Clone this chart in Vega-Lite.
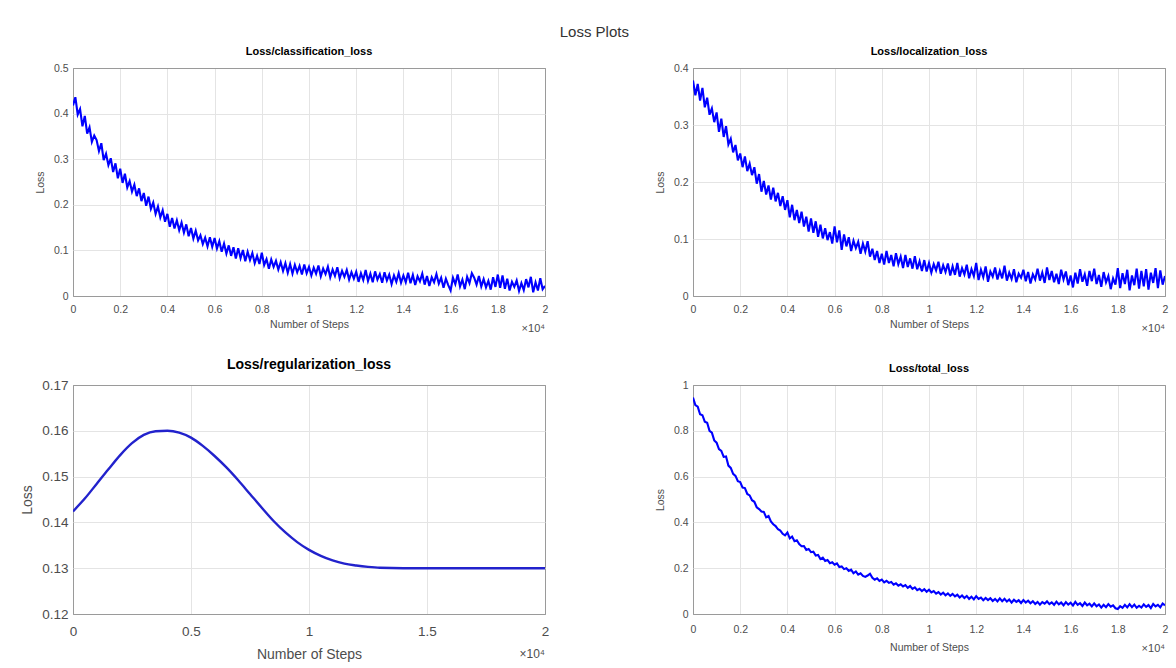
{
"$schema": "https://vega.github.io/schema/vega-lite/v6.json",
"background": "white",
"padding": {"left": 20, "top": 24, "right": 4, "bottom": 4},
"title": {"text": "Loss Plots", "fontSize": 15, "font": "Liberation Sans", "fontWeight": "normal", "color": "#333333", "anchor": "middle", "offset": 6},
"config": {
  "font": "Liberation Sans",
  "view": {"stroke": "#9a9a9a", "strokeWidth": 1},
  "axis": {"grid": true, "gridColor": "#e4e4e4", "domain": false, "ticks": false, "labelColor": "#4d4d4d", "titleColor": "#4d4d4d", "titleFontWeight": "normal", "labelFlush": false, "labelOverlap": false, "labelFont": "Liberation Sans", "titleFont": "Liberation Sans"}
},
"columns": 2,
"bounds": "flush",
"spacing": {"column": 148, "row": 89},
"datasets": {
"cls": [
{"step":0,"loss":0.418},{"step":100,"loss":0.436},{"step":200,"loss":0.398},{"step":300,"loss":0.41},{"step":400,"loss":0.372},{"step":500,"loss":0.395},{"step":600,"loss":0.356},{"step":700,"loss":0.37},{"step":800,"loss":0.338},{"step":900,"loss":0.352},
{"step":1000,"loss":0.342},{"step":1100,"loss":0.318},{"step":1200,"loss":0.335},{"step":1300,"loss":0.298},{"step":1400,"loss":0.312},{"step":1500,"loss":0.287},{"step":1600,"loss":0.302},{"step":1700,"loss":0.272},{"step":1800,"loss":0.291},{"step":1900,"loss":0.258},
{"step":2000,"loss":0.279},{"step":2100,"loss":0.248},{"step":2200,"loss":0.268},{"step":2300,"loss":0.238},{"step":2400,"loss":0.252},{"step":2500,"loss":0.229},{"step":2600,"loss":0.244},{"step":2700,"loss":0.219},{"step":2800,"loss":0.236},{"step":2900,"loss":0.208},
{"step":3000,"loss":0.226},{"step":3100,"loss":0.198},{"step":3200,"loss":0.218},{"step":3300,"loss":0.191},{"step":3400,"loss":0.205},{"step":3500,"loss":0.18},{"step":3600,"loss":0.196},{"step":3700,"loss":0.172},{"step":3800,"loss":0.188},{"step":3900,"loss":0.163},
{"step":4000,"loss":0.18},{"step":4100,"loss":0.152},{"step":4200,"loss":0.171},{"step":4300,"loss":0.148},{"step":4400,"loss":0.166},{"step":4500,"loss":0.144},{"step":4600,"loss":0.161},{"step":4700,"loss":0.139},{"step":4800,"loss":0.157},{"step":4900,"loss":0.131},
{"step":5000,"loss":0.149},{"step":5100,"loss":0.126},{"step":5200,"loss":0.143},{"step":5300,"loss":0.122},{"step":5400,"loss":0.133},{"step":5500,"loss":0.114},{"step":5600,"loss":0.128},{"step":5700,"loss":0.109},{"step":5800,"loss":0.129},{"step":5900,"loss":0.108},
{"step":6000,"loss":0.127},{"step":6100,"loss":0.104},{"step":6200,"loss":0.12},{"step":6300,"loss":0.097},{"step":6400,"loss":0.115},{"step":6500,"loss":0.093},{"step":6600,"loss":0.111},{"step":6700,"loss":0.088},{"step":6800,"loss":0.107},{"step":6900,"loss":0.082},
{"step":7000,"loss":0.105},{"step":7100,"loss":0.083},{"step":7200,"loss":0.101},{"step":7300,"loss":0.076},{"step":7400,"loss":0.097},{"step":7500,"loss":0.079},{"step":7600,"loss":0.094},{"step":7700,"loss":0.072},{"step":7800,"loss":0.088},{"step":7900,"loss":0.07},
{"step":8000,"loss":0.095},{"step":8100,"loss":0.068},{"step":8200,"loss":0.081},{"step":8300,"loss":0.06},{"step":8400,"loss":0.08},{"step":8500,"loss":0.064},{"step":8600,"loss":0.077},{"step":8700,"loss":0.058},{"step":8800,"loss":0.074},{"step":8900,"loss":0.055},
{"step":9000,"loss":0.072},{"step":9100,"loss":0.051},{"step":9200,"loss":0.07},{"step":9300,"loss":0.049},{"step":9400,"loss":0.068},{"step":9500,"loss":0.052},{"step":9600,"loss":0.066},{"step":9700,"loss":0.047},{"step":9800,"loss":0.069},{"step":9900,"loss":0.05},
{"step":10000,"loss":0.064},{"step":10100,"loss":0.045},{"step":10200,"loss":0.062},{"step":10300,"loss":0.049},{"step":10400,"loss":0.067},{"step":10500,"loss":0.043},{"step":10600,"loss":0.06},{"step":10700,"loss":0.048},{"step":10800,"loss":0.064},{"step":10900,"loss":0.041},
{"step":11000,"loss":0.058},{"step":11100,"loss":0.044},{"step":11200,"loss":0.063},{"step":11300,"loss":0.039},{"step":11400,"loss":0.055},{"step":11500,"loss":0.042},{"step":11600,"loss":0.057},{"step":11700,"loss":0.036},{"step":11800,"loss":0.052},{"step":11900,"loss":0.038},
{"step":12000,"loss":0.053},{"step":12100,"loss":0.031},{"step":12200,"loss":0.05},{"step":12300,"loss":0.035},{"step":12400,"loss":0.057},{"step":12500,"loss":0.033},{"step":12600,"loss":0.049},{"step":12700,"loss":0.03},{"step":12800,"loss":0.054},{"step":12900,"loss":0.036},
{"step":13000,"loss":0.048},{"step":13100,"loss":0.029},{"step":13200,"loss":0.052},{"step":13300,"loss":0.034},{"step":13400,"loss":0.047},{"step":13500,"loss":0.026},{"step":13600,"loss":0.045},{"step":13700,"loss":0.031},{"step":13800,"loss":0.05},{"step":13900,"loss":0.029},
{"step":14000,"loss":0.045},{"step":14100,"loss":0.03},{"step":14200,"loss":0.051},{"step":14300,"loss":0.028},{"step":14400,"loss":0.046},{"step":14500,"loss":0.024},{"step":14600,"loss":0.043},{"step":14700,"loss":0.032},{"step":14800,"loss":0.049},{"step":14900,"loss":0.025},
{"step":15000,"loss":0.044},{"step":15100,"loss":0.022},{"step":15200,"loss":0.041},{"step":15300,"loss":0.03},{"step":15400,"loss":0.048},{"step":15500,"loss":0.027},{"step":15600,"loss":0.04},{"step":15700,"loss":0.018},{"step":15800,"loss":0.038},{"step":15900,"loss":0.024},
{"step":16000,"loss":0.012},{"step":16100,"loss":0.04},{"step":16200,"loss":0.026},{"step":16300,"loss":0.047},{"step":16400,"loss":0.021},{"step":16500,"loss":0.036},{"step":16600,"loss":0.015},{"step":16700,"loss":0.042},{"step":16800,"loss":0.028},{"step":16900,"loss":0.05},
{"step":17000,"loss":0.04},{"step":17100,"loss":0.025},{"step":17200,"loss":0.044},{"step":17300,"loss":0.021},{"step":17400,"loss":0.037},{"step":17500,"loss":0.019},{"step":17600,"loss":0.033},{"step":17700,"loss":0.014},{"step":17800,"loss":0.041},{"step":17900,"loss":0.02},
{"step":18000,"loss":0.047},{"step":18100,"loss":0.018},{"step":18200,"loss":0.045},{"step":18300,"loss":0.016},{"step":18400,"loss":0.038},{"step":18500,"loss":0.012},{"step":18600,"loss":0.031},{"step":18700,"loss":0.02},{"step":18800,"loss":0.034},{"step":18900,"loss":0.011},
{"step":19000,"loss":0.028},{"step":19100,"loss":0.013},{"step":19200,"loss":0.037},{"step":19300,"loss":0.019},{"step":19400,"loss":0.042},{"step":19500,"loss":0.008},{"step":19600,"loss":0.03},{"step":19700,"loss":0.012},{"step":19800,"loss":0.039},{"step":19900,"loss":0.015},
{"step":20000,"loss":0.022}
],
"loc": [
{"step":0,"loss":0.378},{"step":100,"loss":0.352},{"step":200,"loss":0.372},{"step":300,"loss":0.343},{"step":400,"loss":0.365},{"step":500,"loss":0.331},{"step":600,"loss":0.348},{"step":700,"loss":0.318},{"step":800,"loss":0.329},{"step":900,"loss":0.305},
{"step":1000,"loss":0.322},{"step":1100,"loss":0.288},{"step":1200,"loss":0.311},{"step":1300,"loss":0.279},{"step":1400,"loss":0.298},{"step":1500,"loss":0.266},{"step":1600,"loss":0.276},{"step":1700,"loss":0.252},{"step":1800,"loss":0.265},{"step":1900,"loss":0.238},
{"step":2000,"loss":0.25},{"step":2100,"loss":0.226},{"step":2200,"loss":0.245},{"step":2300,"loss":0.219},{"step":2400,"loss":0.232},{"step":2500,"loss":0.212},{"step":2600,"loss":0.226},{"step":2700,"loss":0.197},{"step":2800,"loss":0.214},{"step":2900,"loss":0.183},
{"step":3000,"loss":0.202},{"step":3100,"loss":0.178},{"step":3200,"loss":0.194},{"step":3300,"loss":0.169},{"step":3400,"loss":0.19},{"step":3500,"loss":0.166},{"step":3600,"loss":0.181},{"step":3700,"loss":0.158},{"step":3800,"loss":0.175},{"step":3900,"loss":0.151},
{"step":4000,"loss":0.168},{"step":4100,"loss":0.138},{"step":4200,"loss":0.16},{"step":4300,"loss":0.133},{"step":4400,"loss":0.151},{"step":4500,"loss":0.128},{"step":4600,"loss":0.148},{"step":4700,"loss":0.122},{"step":4800,"loss":0.139},{"step":4900,"loss":0.113},
{"step":5000,"loss":0.136},{"step":5100,"loss":0.111},{"step":5200,"loss":0.131},{"step":5300,"loss":0.104},{"step":5400,"loss":0.125},{"step":5500,"loss":0.101},{"step":5600,"loss":0.119},{"step":5700,"loss":0.098},{"step":5800,"loss":0.112},{"step":5900,"loss":0.092},
{"step":6000,"loss":0.122},{"step":6100,"loss":0.094},{"step":6200,"loss":0.115},{"step":6300,"loss":0.081},{"step":6400,"loss":0.108},{"step":6500,"loss":0.087},{"step":6600,"loss":0.103},{"step":6700,"loss":0.079},{"step":6800,"loss":0.097},{"step":6900,"loss":0.084},
{"step":7000,"loss":0.095},{"step":7100,"loss":0.074},{"step":7200,"loss":0.092},{"step":7300,"loss":0.078},{"step":7400,"loss":0.096},{"step":7500,"loss":0.069},{"step":7600,"loss":0.083},{"step":7700,"loss":0.063},{"step":7800,"loss":0.079},{"step":7900,"loss":0.058},
{"step":8000,"loss":0.074},{"step":8100,"loss":0.055},{"step":8200,"loss":0.079},{"step":8300,"loss":0.058},{"step":8400,"loss":0.072},{"step":8500,"loss":0.052},{"step":8600,"loss":0.075},{"step":8700,"loss":0.056},{"step":8800,"loss":0.069},{"step":8900,"loss":0.049},
{"step":9000,"loss":0.072},{"step":9100,"loss":0.051},{"step":9200,"loss":0.066},{"step":9300,"loss":0.048},{"step":9400,"loss":0.07},{"step":9500,"loss":0.047},{"step":9600,"loss":0.061},{"step":9700,"loss":0.044},{"step":9800,"loss":0.063},{"step":9900,"loss":0.043},
{"step":10000,"loss":0.058},{"step":10100,"loss":0.041},{"step":10200,"loss":0.056},{"step":10300,"loss":0.045},{"step":10400,"loss":0.06},{"step":10500,"loss":0.039},{"step":10600,"loss":0.054},{"step":10700,"loss":0.042},{"step":10800,"loss":0.057},{"step":10900,"loss":0.036},
{"step":11000,"loss":0.052},{"step":11100,"loss":0.037},{"step":11200,"loss":0.058},{"step":11300,"loss":0.034},{"step":11400,"loss":0.049},{"step":11500,"loss":0.038},{"step":11600,"loss":0.055},{"step":11700,"loss":0.031},{"step":11800,"loss":0.047},{"step":11900,"loss":0.035},
{"step":12000,"loss":0.058},{"step":12100,"loss":0.028},{"step":12200,"loss":0.046},{"step":12300,"loss":0.033},{"step":12400,"loss":0.052},{"step":12500,"loss":0.025},{"step":12600,"loss":0.043},{"step":12700,"loss":0.034},{"step":12800,"loss":0.05},{"step":12900,"loss":0.029},
{"step":13000,"loss":0.044},{"step":13100,"loss":0.031},{"step":13200,"loss":0.053},{"step":13300,"loss":0.027},{"step":13400,"loss":0.041},{"step":13500,"loss":0.03},{"step":13600,"loss":0.047},{"step":13700,"loss":0.024},{"step":13800,"loss":0.039},{"step":13900,"loss":0.032},
{"step":14000,"loss":0.046},{"step":14100,"loss":0.026},{"step":14200,"loss":0.042},{"step":14300,"loss":0.022},{"step":14400,"loss":0.038},{"step":14500,"loss":0.029},{"step":14600,"loss":0.048},{"step":14700,"loss":0.027},{"step":14800,"loss":0.041},{"step":14900,"loss":0.023},
{"step":15000,"loss":0.05},{"step":15100,"loss":0.028},{"step":15200,"loss":0.044},{"step":15300,"loss":0.024},{"step":15400,"loss":0.039},{"step":15500,"loss":0.021},{"step":15600,"loss":0.046},{"step":15700,"loss":0.029},{"step":15800,"loss":0.043},{"step":15900,"loss":0.019},
{"step":16000,"loss":0.036},{"step":16100,"loss":0.015},{"step":16200,"loss":0.041},{"step":16300,"loss":0.022},{"step":16400,"loss":0.047},{"step":16500,"loss":0.025},{"step":16600,"loss":0.038},{"step":16700,"loss":0.018},{"step":16800,"loss":0.044},{"step":16900,"loss":0.026},
{"step":17000,"loss":0.048},{"step":17100,"loss":0.021},{"step":17200,"loss":0.037},{"step":17300,"loss":0.016},{"step":17400,"loss":0.042},{"step":17500,"loss":0.024},{"step":17600,"loss":0.035},{"step":17700,"loss":0.012},{"step":17800,"loss":0.031},{"step":17900,"loss":0.02},
{"step":18000,"loss":0.049},{"step":18100,"loss":0.014},{"step":18200,"loss":0.04},{"step":18300,"loss":0.021},{"step":18400,"loss":0.046},{"step":18500,"loss":0.01},{"step":18600,"loss":0.036},{"step":18700,"loss":0.019},{"step":18800,"loss":0.048},{"step":18900,"loss":0.013},
{"step":19000,"loss":0.044},{"step":19100,"loss":0.017},{"step":19200,"loss":0.047},{"step":19300,"loss":0.011},{"step":19400,"loss":0.041},{"step":19500,"loss":0.023},{"step":19600,"loss":0.049},{"step":19700,"loss":0.014},{"step":19800,"loss":0.045},{"step":19900,"loss":0.02},
{"step":20000,"loss":0.035}
],
"tot": [
{"step":0,"loss":0.945},{"step":100,"loss":0.912},{"step":200,"loss":0.905},{"step":300,"loss":0.872},{"step":400,"loss":0.868},{"step":500,"loss":0.84},{"step":600,"loss":0.835},{"step":700,"loss":0.8},{"step":800,"loss":0.792},{"step":900,"loss":0.758},
{"step":1000,"loss":0.748},{"step":1100,"loss":0.72},{"step":1200,"loss":0.712},{"step":1300,"loss":0.686},{"step":1400,"loss":0.688},{"step":1500,"loss":0.648},{"step":1600,"loss":0.638},{"step":1700,"loss":0.612},{"step":1800,"loss":0.603},{"step":1900,"loss":0.58},
{"step":2000,"loss":0.576},{"step":2100,"loss":0.552},{"step":2200,"loss":0.55},{"step":2300,"loss":0.524},{"step":2400,"loss":0.518},{"step":2500,"loss":0.497},{"step":2600,"loss":0.49},{"step":2700,"loss":0.466},{"step":2800,"loss":0.458},{"step":2900,"loss":0.448},
{"step":3000,"loss":0.446},{"step":3100,"loss":0.422},{"step":3200,"loss":0.428},{"step":3300,"loss":0.404},{"step":3400,"loss":0.392},{"step":3500,"loss":0.384},{"step":3600,"loss":0.37},{"step":3700,"loss":0.364},{"step":3800,"loss":0.35},{"step":3900,"loss":0.343},
{"step":4000,"loss":0.356},{"step":4100,"loss":0.33},{"step":4200,"loss":0.338},{"step":4300,"loss":0.318},{"step":4400,"loss":0.322},{"step":4500,"loss":0.305},{"step":4600,"loss":0.296},{"step":4700,"loss":0.297},{"step":4800,"loss":0.28},{"step":4900,"loss":0.284},
{"step":5000,"loss":0.27},{"step":5100,"loss":0.272},{"step":5200,"loss":0.255},{"step":5300,"loss":0.258},{"step":5400,"loss":0.24},{"step":5500,"loss":0.246},{"step":5600,"loss":0.232},{"step":5700,"loss":0.236},{"step":5800,"loss":0.222},{"step":5900,"loss":0.226},
{"step":6000,"loss":0.215},{"step":6100,"loss":0.221},{"step":6200,"loss":0.205},{"step":6300,"loss":0.208},{"step":6400,"loss":0.196},{"step":6500,"loss":0.2},{"step":6600,"loss":0.188},{"step":6700,"loss":0.194},{"step":6800,"loss":0.178},{"step":6900,"loss":0.186},
{"step":7000,"loss":0.172},{"step":7100,"loss":0.178},{"step":7200,"loss":0.166},{"step":7300,"loss":0.162},{"step":7400,"loss":0.168},{"step":7500,"loss":0.176},{"step":7600,"loss":0.158},{"step":7700,"loss":0.15},{"step":7800,"loss":0.156},{"step":7900,"loss":0.144},
{"step":8000,"loss":0.15},{"step":8100,"loss":0.138},{"step":8200,"loss":0.145},{"step":8300,"loss":0.136},{"step":8400,"loss":0.14},{"step":8500,"loss":0.128},{"step":8600,"loss":0.134},{"step":8700,"loss":0.124},{"step":8800,"loss":0.13},{"step":8900,"loss":0.12},
{"step":9000,"loss":0.126},{"step":9100,"loss":0.114},{"step":9200,"loss":0.122},{"step":9300,"loss":0.11},{"step":9400,"loss":0.116},{"step":9500,"loss":0.104},{"step":9600,"loss":0.11},{"step":9700,"loss":0.1},{"step":9800,"loss":0.108},{"step":9900,"loss":0.097},
{"step":10000,"loss":0.106},{"step":10100,"loss":0.094},{"step":10200,"loss":0.1},{"step":10300,"loss":0.089},{"step":10400,"loss":0.096},{"step":10500,"loss":0.085},{"step":10600,"loss":0.093},{"step":10700,"loss":0.082},{"step":10800,"loss":0.09},{"step":10900,"loss":0.079},
{"step":11000,"loss":0.088},{"step":11100,"loss":0.077},{"step":11200,"loss":0.084},{"step":11300,"loss":0.072},{"step":11400,"loss":0.081},{"step":11500,"loss":0.07},{"step":11600,"loss":0.079},{"step":11700,"loss":0.066},{"step":11800,"loss":0.075},{"step":11900,"loss":0.064},
{"step":12000,"loss":0.078},{"step":12100,"loss":0.066},{"step":12200,"loss":0.072},{"step":12300,"loss":0.06},{"step":12400,"loss":0.07},{"step":12500,"loss":0.061},{"step":12600,"loss":0.069},{"step":12700,"loss":0.057},{"step":12800,"loss":0.066},{"step":12900,"loss":0.055},
{"step":13000,"loss":0.068},{"step":13100,"loss":0.056},{"step":13200,"loss":0.066},{"step":13300,"loss":0.054},{"step":13400,"loss":0.063},{"step":13500,"loss":0.05},{"step":13600,"loss":0.062},{"step":13700,"loss":0.053},{"step":13800,"loss":0.06},{"step":13900,"loss":0.048},
{"step":14000,"loss":0.061},{"step":14100,"loss":0.05},{"step":14200,"loss":0.058},{"step":14300,"loss":0.047},{"step":14400,"loss":0.056},{"step":14500,"loss":0.044},{"step":14600,"loss":0.053},{"step":14700,"loss":0.041},{"step":14800,"loss":0.052},{"step":14900,"loss":0.045},
{"step":15000,"loss":0.055},{"step":15100,"loss":0.043},{"step":15200,"loss":0.051},{"step":15300,"loss":0.04},{"step":15400,"loss":0.054},{"step":15500,"loss":0.042},{"step":15600,"loss":0.05},{"step":15700,"loss":0.038},{"step":15800,"loss":0.052},{"step":15900,"loss":0.041},
{"step":16000,"loss":0.049},{"step":16100,"loss":0.037},{"step":16200,"loss":0.053},{"step":16300,"loss":0.04},{"step":16400,"loss":0.047},{"step":16500,"loss":0.035},{"step":16600,"loss":0.05},{"step":16700,"loss":0.038},{"step":16800,"loss":0.045},{"step":16900,"loss":0.033},
{"step":17000,"loss":0.046},{"step":17100,"loss":0.034},{"step":17200,"loss":0.042},{"step":17300,"loss":0.028},{"step":17400,"loss":0.04},{"step":17500,"loss":0.03},{"step":17600,"loss":0.043},{"step":17700,"loss":0.032},{"step":17800,"loss":0.038},{"step":17900,"loss":0.025},
{"step":18000,"loss":0.022},{"step":18100,"loss":0.034},{"step":18200,"loss":0.027},{"step":18300,"loss":0.04},{"step":18400,"loss":0.029},{"step":18500,"loss":0.043},{"step":18600,"loss":0.03},{"step":18700,"loss":0.041},{"step":18800,"loss":0.027},{"step":18900,"loss":0.036},
{"step":19000,"loss":0.028},{"step":19100,"loss":0.042},{"step":19200,"loss":0.031},{"step":19300,"loss":0.039},{"step":19400,"loss":0.026},{"step":19500,"loss":0.044},{"step":19600,"loss":0.033},{"step":19700,"loss":0.04},{"step":19800,"loss":0.029},{"step":19900,"loss":0.046},
{"step":20000,"loss":0.038}
],
"reg": [
{"step":0,"loss":0.1424},{"step":500,"loss":0.1452},{"step":1000,"loss":0.1484},{"step":1500,"loss":0.1516},{"step":2000,"loss":0.1547},{"step":2500,"loss":0.1573},{"step":3000,"loss":0.1591},{"step":3500,"loss":0.1599},{"step":4000,"loss":0.16},{"step":4500,"loss":0.1596},
{"step":5000,"loss":0.1585},{"step":5500,"loss":0.1567},{"step":6000,"loss":0.1545},{"step":6500,"loss":0.152},{"step":7000,"loss":0.1492},{"step":7500,"loss":0.1462},{"step":8000,"loss":0.1432},{"step":8500,"loss":0.1403},{"step":9000,"loss":0.1378},{"step":9500,"loss":0.1357},
{"step":10000,"loss":0.134},{"step":10500,"loss":0.1327},{"step":11000,"loss":0.1317},{"step":11500,"loss":0.131},{"step":12000,"loss":0.1306},{"step":12500,"loss":0.1303},{"step":13000,"loss":0.1301},{"step":14000,"loss":0.13},{"step":15000,"loss":0.13},{"step":16000,"loss":0.13},
{"step":17000,"loss":0.13},{"step":18000,"loss":0.13},{"step":19000,"loss":0.13},{"step":20000,"loss":0.13}
]
},
"concat": [
{
  "width": 472, "height": 228,
  "title": {"text": "Loss/classification_loss", "fontSize": 11, "fontWeight": "bold", "color": "#000000", "offset": 6, "font": "Liberation Sans"},
  "layer": [
    {"data": {"name": "cls"}, "mark": {"type": "line", "color": "#0000ff", "strokeWidth": 2.1, "clip": true},
     "encoding": {
       "x": {"field": "step", "type": "quantitative", "scale": {"domain": [0, 20000], "nice": false}, "axis": {"values": [0,2000,4000,6000,8000,10000,12000,14000,16000,18000,20000], "labelExpr": "'' + datum.value / 10000", "title": "Number of Steps", "labelFontSize": 10.5, "titleFontSize": 10.5, "labelPadding": 8, "titlePadding": 5, "gridColor": {"condition": {"test": "datum.value == 0 || datum.value == 20000", "value": "#9a9a9a"}, "value": "#e4e4e4"}}},
       "y": {"field": "loss", "type": "quantitative", "scale": {"domain": [0, 0.5], "nice": false}, "axis": {"values": [0,0.1,0.2,0.3,0.4,0.5], "labelExpr": "'' + datum.value", "title": "Loss", "labelFontSize": 10.5, "titleFontSize": 10.5, "labelPadding": 5, "titlePadding": 8, "gridColor": {"condition": {"test": "datum.value == 0 || datum.value == 0.5", "value": "#9a9a9a"}, "value": "#e4e4e4"}}}
     }},
    {"data": {"values": [{"t": "×10⁴"}]}, "mark": {"type": "text", "align": "right", "baseline": "middle", "dy": 33, "fontSize": 11, "color": "#4d4d4d"},
     "encoding": {"x": {"datum": 20000}, "y": {"datum": 0}, "text": {"field": "t"}}}
  ]
},
{
  "width": 472, "height": 228,
  "title": {"text": "Loss/localization_loss", "fontSize": 11, "fontWeight": "bold", "color": "#000000", "offset": 6, "font": "Liberation Sans"},
  "layer": [
    {"data": {"name": "loc"}, "mark": {"type": "line", "color": "#0000ff", "strokeWidth": 2.1, "clip": true},
     "encoding": {
       "x": {"field": "step", "type": "quantitative", "scale": {"domain": [0, 20000], "nice": false}, "axis": {"values": [0,2000,4000,6000,8000,10000,12000,14000,16000,18000,20000], "labelExpr": "'' + datum.value / 10000", "title": "Number of Steps", "labelFontSize": 10.5, "titleFontSize": 10.5, "labelPadding": 8, "titlePadding": 5, "gridColor": {"condition": {"test": "datum.value == 0 || datum.value == 20000", "value": "#9a9a9a"}, "value": "#e4e4e4"}}},
       "y": {"field": "loss", "type": "quantitative", "scale": {"domain": [0, 0.4], "nice": false}, "axis": {"values": [0,0.05,0.1,0.15,0.2,0.25,0.3,0.35,0.4], "labelExpr": "'' + datum.value", "title": "Loss", "labelFontSize": 10.5, "titleFontSize": 10.5, "labelPadding": 5, "titlePadding": 8, "gridColor": {"condition": {"test": "datum.value == 0 || datum.value == 0.4", "value": "#9a9a9a"}, "value": "#e4e4e4"}}}
     }},
    {"data": {"values": [{"t": "×10⁴"}]}, "mark": {"type": "text", "align": "right", "baseline": "middle", "dy": 33, "fontSize": 11, "color": "#4d4d4d"},
     "encoding": {"x": {"datum": 20000}, "y": {"datum": 0}, "text": {"field": "t"}}}
  ]
},
{
  "width": 472, "height": 229,
  "title": {"text": "Loss/regularization_loss", "fontSize": 14, "fontWeight": "bold", "color": "#000000", "offset": 6, "font": "Liberation Sans"},
  "layer": [
    {"data": {"name": "reg"}, "mark": {"type": "line", "color": "#2222cc", "strokeWidth": 2.4, "clip": true, "interpolate": "monotone"},
     "encoding": {
       "x": {"field": "step", "type": "quantitative", "scale": {"domain": [0, 20000], "nice": false}, "axis": {"values": [0,5000,10000,15000,20000], "labelExpr": "'' + datum.value / 10000", "title": "Number of Steps", "labelFontSize": 13.5, "titleFontSize": 14, "labelPadding": 10, "titlePadding": 10, "gridColor": {"condition": {"test": "datum.value == 0 || datum.value == 20000", "value": "#9a9a9a"}, "value": "#e4e4e4"}}},
       "y": {"field": "loss", "type": "quantitative", "scale": {"domain": [0.12, 0.17], "nice": false, "zero": false}, "axis": {"values": [0.12,0.13,0.14,0.15,0.16,0.17], "labelExpr": "'' + datum.value", "title": "Loss", "labelFontSize": 13.5, "titleFontSize": 14, "labelPadding": 5, "titlePadding": 7, "gridColor": {"condition": {"test": "datum.value == 0.12 || datum.value == 0.17", "value": "#9a9a9a"}, "value": "#e4e4e4"}}}
     }},
    {"data": {"values": [{"t": "×10⁴"}]}, "mark": {"type": "text", "align": "right", "baseline": "middle", "dy": 40, "fontSize": 12, "color": "#4d4d4d"},
     "encoding": {"x": {"datum": 20000}, "y": {"datum": 0.12}, "text": {"field": "t"}}}
  ]
},
{
  "width": 472, "height": 229,
  "title": {"text": "Loss/total_loss", "fontSize": 11, "fontWeight": "bold", "color": "#000000", "offset": 6, "font": "Liberation Sans"},
  "layer": [
    {"data": {"name": "tot"}, "mark": {"type": "line", "color": "#0000ff", "strokeWidth": 2.1, "clip": true},
     "encoding": {
       "x": {"field": "step", "type": "quantitative", "scale": {"domain": [0, 20000], "nice": false}, "axis": {"values": [0,2000,4000,6000,8000,10000,12000,14000,16000,18000,20000], "labelExpr": "'' + datum.value / 10000", "title": "Number of Steps", "labelFontSize": 10.5, "titleFontSize": 10.5, "labelPadding": 10, "titlePadding": 8, "gridColor": {"condition": {"test": "datum.value == 0 || datum.value == 20000", "value": "#9a9a9a"}, "value": "#e4e4e4"}}},
       "y": {"field": "loss", "type": "quantitative", "scale": {"domain": [0, 1], "nice": false}, "axis": {"values": [0,0.2,0.4,0.6,0.8,1], "labelExpr": "'' + datum.value", "title": "Loss", "labelFontSize": 10.5, "titleFontSize": 10.5, "labelPadding": 5, "titlePadding": 8, "gridColor": {"condition": {"test": "datum.value == 0 || datum.value == 1", "value": "#9a9a9a"}, "value": "#e4e4e4"}}}
     }},
    {"data": {"values": [{"t": "×10⁴"}]}, "mark": {"type": "text", "align": "right", "baseline": "middle", "dy": 35, "fontSize": 11, "color": "#4d4d4d"},
     "encoding": {"x": {"datum": 20000}, "y": {"datum": 0}, "text": {"field": "t"}}}
  ]
}
]
}
